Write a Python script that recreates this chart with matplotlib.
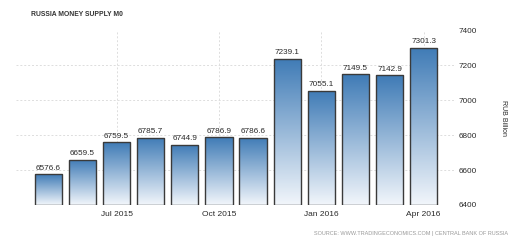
import matplotlib
matplotlib.use("Agg")
import matplotlib.pyplot as plt
import numpy as np
from matplotlib.patches import Rectangle
from matplotlib.colors import LinearSegmentedColormap

plt.rcParams['font.family'] = ['Liberation Sans', 'DejaVu Sans']

months = ["May 2015", "Jun 2015", "Jul 2015", "Aug 2015", "Sep 2015", "Oct 2015",
          "Nov 2015", "Dec 2015", "Jan 2016", "Feb 2016", "Mar 2016", "Apr 2016"]
values = [6576.6, 6659.5, 6759.5, 6785.7, 6744.9, 6786.9,
          6786.6, 7239.1, 7055.1, 7149.5, 7142.9, 7301.3]
tick_labels = ["Jul 2015", "Oct 2015", "Jan 2016", "Apr 2016"]
tick_idx = [2, 5, 8, 11]
yticks = [6400, 6600, 6800, 7000, 7200, 7400]

fig = plt.figure(figsize=(5.24, 2.44), dpi=100)
ax = fig.add_axes([16/524, 1-205/244, (456-16)/524, (205-30.5)/244])
ymin, ymax = 6400, 7400

grad = np.linspace(0, 1, 256).reshape(-1, 1)
cmap = LinearSegmentedColormap.from_list("g", ["#f2f6fb", "#3f7bb6"])
x = np.arange(len(values))
w = 0.8
for xi, v in zip(x, values):
    im = ax.imshow(grad, extent=[xi - w/2, xi + w/2, ymin, v], origin="lower",
                   cmap=cmap, aspect="auto", zorder=2)
    r = Rectangle((xi - w/2, ymin), w, v - ymin, facecolor="none",
                  edgecolor="#3a3a3a", linewidth=1.0, zorder=3)
    ax.add_patch(r)
    im.set_clip_path(r)
    ax.text(xi, v + 14, f"{v:.1f}", ha="center", va="bottom", fontsize=5.9,
            color="#2a2a2a", zorder=4)
ax.set_xlim(-0.95, 11.95)
ax.set_ylim(ymin, ymax)

ax.set_xticks(tick_idx)
ax.set_xticklabels(tick_labels, fontsize=6.0, color="#2a2a2a")
ax.yaxis.tick_right()
ax.set_yticks(yticks)
ax.set_yticklabels([str(t) for t in yticks], fontsize=5.9, color="#2a2a2a")
ax.tick_params(length=0, pad=2)
ax.tick_params(axis="x", pad=4)
ax.grid(True, linestyle=(0, (2, 2)), color="#dddddd", linewidth=0.7, zorder=0)
ax.set_axisbelow(True)
for s in ax.spines.values():
    s.set_visible(False)

fig.text(31/524, 1-14/244, "RUSSIA MONEY SUPPLY M0", fontsize=4.9, color="#333333",
         fontweight="bold", va="center", ha="left")
fig.text(503/524, 1-118/244, "RUB Billion", fontsize=5.0, color="#2a2a2a",
         rotation=270, va="center", ha="center")
fig.text(508/524, 1-233/244, "SOURCE: WWW.TRADINGECONOMICS.COM | CENTRAL BANK OF RUSSIA",
         fontsize=4.0, color="#999999", va="center", ha="right")

fig.savefig("out.png", dpi=100)
